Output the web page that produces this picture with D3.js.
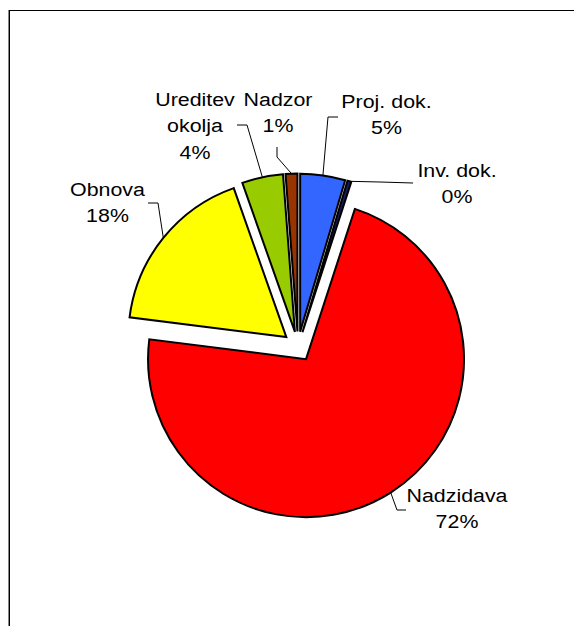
<!DOCTYPE html>
<html>
<head>
<meta charset="utf-8">
<script src="https://cdn.jsdelivr.net/npm/d3@7/dist/d3.min.js"></script>
<style>
  html, body { margin: 0; padding: 0; background: #fff; }
  svg { display: block; }
  text { font-family: Arial, "Liberation Sans", sans-serif; font-size: 18.6px; fill: #000; }
</style>
</head>
<body>
<svg id="chart" width="574" height="626"></svg>
<script>
// ---- data ----
const categories = ["Proj. dok.", "Inv. dok.", "Nadzidava", "Obnova", "Ureditev okolja", "Nadzor"];
const values = [4.6, 0.4, 72.0, 17.6, 4.2, 1.2];   // percent shares
const labelLines = [["Proj. dok."], ["Inv. dok."], ["Nadzidava"], ["Obnova"], ["Ureditev", "okolja"], ["Nadzor"]];

// ---- styles / layout ----
const colors = ["#3366FF", "#1a1a66", "#FF0000", "#FFFF00", "#99CC00", "#993300"];
const center = [298, 346.5];
const radius = 158;
const explode = 15;
const textStretch = 1.15;
// label anchor: [center x, first baseline y]; leader: [elbow, end] points near the label
const labelLayout = [
  { x: 386.5, y: 108, leader: [[328, 117], [338, 117]] },
  { x: 457, y: 177, leader: [[380, 182], [413, 183]] },
  { x: 457, y: 502, leader: [[397, 510], [406, 510]] },
  { x: 107.5, y: 196, leader: [[158, 203], [148, 203]] },
  { x: 195, y: 106, leader: [[247, 125], [237, 125]] },
  { x: 278, y: 106, leader: [[277, 157], [277, 147]] }
];
const lineGap = 26.5;

const svg = d3.select("#chart");

// frame (chart area border running off the page)
svg.append("rect").attr("x", 0).attr("y", 0).attr("width", 574).attr("height", 626).attr("fill", "#fff");
svg.append("line").attr("x1", 8.5).attr("y1", 10).attr("x2", 8.5).attr("y2", 626).attr("stroke", "#888").attr("stroke-width", 1);
svg.append("rect").attr("x", 9.5).attr("y", 10.5).attr("width", 600).attr("height", 700)
  .attr("fill", "none").attr("stroke", "#000").attr("stroke-width", 1);

const data = categories.map((c, i) => ({ name: c, value: values[i], i }));
const pie = d3.pie().value(d => d.value).sort(null).startAngle(0).endAngle(2 * Math.PI);
const arcs = pie(data);
const arc = d3.arc().innerRadius(0).outerRadius(radius);

const pct = v => Math.round(v) + "%";

arcs.forEach(a => {
  const mid = (a.startAngle + a.endAngle) / 2;
  a.mid = mid;
  a.origin = [center[0] + explode * Math.sin(mid), center[1] - explode * Math.cos(mid)];
});

svg.append("g").selectAll("path.slice").data(arcs).join("path")
  .attr("class", "slice")
  .attr("transform", d => `translate(${d.origin[0]},${d.origin[1]})`)
  .attr("d", arc)
  .attr("fill", d => colors[d.data.i])
  .attr("stroke", "#000")
  .attr("stroke-width", 2)
  .attr("stroke-linejoin", "miter");

// leader lines
const line = d3.line();
arcs.forEach(a => {
  const L = labelLayout[a.data.i];
  const start = [a.origin[0] + radius * Math.sin(a.mid), a.origin[1] - radius * Math.cos(a.mid)];
  svg.append("path")
    .attr("d", line([start, ...L.leader]))
    .attr("fill", "none").attr("stroke", "#000").attr("stroke-width", 1);
});

// labels
arcs.forEach(a => {
  const L = labelLayout[a.data.i];
  const lines = [...labelLines[a.data.i], pct(a.data.value)];
  const t = svg.append("text").attr("text-anchor", "middle")
    .attr("transform", `translate(${L.x},${L.y}) scale(${textStretch},1)`);
  lines.forEach((s, k) => {
    t.append("tspan").attr("x", 0).attr("y", k * lineGap).text(s);
  });
});
</script>
</body>
</html>
